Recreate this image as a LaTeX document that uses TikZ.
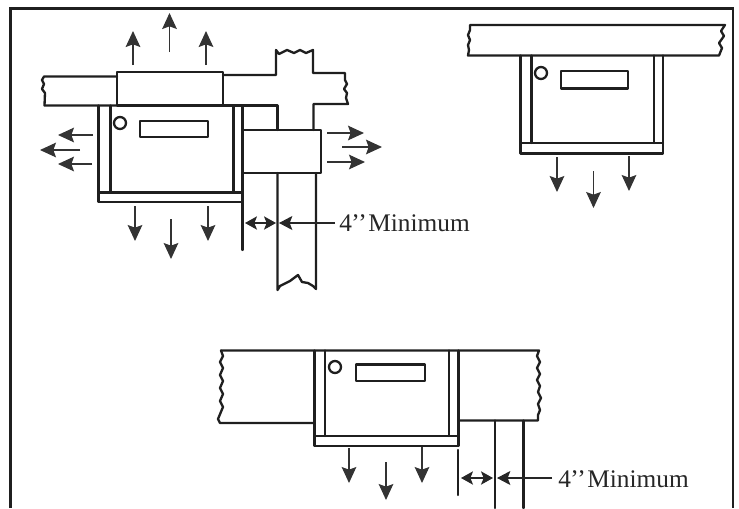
\documentclass[tikz,border=0pt]{standalone}
\usepackage{fontspec}
\setmainfont{Liberation Serif}
\usetikzlibrary{arrows.meta}
\tikzset{
  wall/.style={line width=1.75pt,line cap=round,line join=round,color=black!88},
  frameline/.style={line width=2pt,color=black!88},
  flow/.style={line width=0.85pt,color=black!80,-{Stealth[length=12pt,width=11pt,inset=2pt]}},
  dim/.style={line width=0.85pt,color=black!85,{Stealth[length=9pt,width=10pt,inset=2pt]}-{Stealth[length=9pt,width=10pt,inset=2pt]}},
  dimlead/.style={line width=0.85pt,color=black!85,-{Stealth[length=10pt,width=10.5pt,inset=2pt]}},
  dimlabel/.style={inner sep=0pt,anchor=base west,font=\fontsize{19pt}{22pt}\selectfont,color=black!85}
}
\newcommand{\minlabel}{4\kern-0.5pt’\kern-1pt’\kern1.2pt Minimum}
\begin{document}
\begin{tikzpicture}[x=0.75pt,y=-0.75pt]
\useasboundingbox (0,0) rectangle (739,508);
% frame
\draw[frameline] (10.5,508) -- (10.5,8.5) -- (733,8.5) -- (733,508);

% ---- upper-left unit
\draw[wall] (117,76.5) -- (44,76.5) -- (42,80) -- (44,84) -- (42,89) -- (45,93) -- (44.5,105.5) -- (117,105.5);
\draw[wall] (117,105.5) rectangle (223,72);
\draw[wall] (223,105.5) -- (277.5,105.5);
\draw[wall] (223,75) -- (276,75) -- (276,50) -- (279,54) -- (287,50) -- (294,53) -- (300,50) -- (306,53) -- (313,50) -- (313,73) -- (345,73) -- (345,80) -- (347,84) -- (344,89) -- (347,93) -- (346,98) -- (348,104) -- (313.5,104) -- (313.5,130);
\draw[wall] (277.5,105.5) -- (277.5,130);
\draw[wall] (98.5,105.5) -- (98.5,202) -- (242.5,202) (98.5,192.5) -- (242.5,192.5);
\draw[wall] (110.5,105.5) -- (110.5,192.5) (233.5,105.5) -- (233.5,192.5);
\draw[wall] (242.5,105.5) -- (242.5,250);
\draw[wall] (120,123) circle[radius=6];
\draw[wall] (140,121) rectangle (208,137);
\draw[wall] (242.5,130) rectangle (321,173);
\draw[wall] (277.5,173) -- (277.5,290) -- (280,286) -- (290,281) -- (298,275) -- (302,282) -- (308,283) -- (313,286) -- (316,289) -- (316,173);
\draw[flow] (133,65) -- (133,31);
\draw[flow] (169.5,52) -- (169.5,13);
\draw[flow] (206,65) -- (206,31);
\draw[flow] (93,135) -- (58,135);
\draw[flow] (80,150) -- (40,150);
\draw[flow] (92,164) -- (58,164);
\draw[flow] (135,206) -- (135,241);
\draw[flow] (171,219) -- (171,259);
\draw[flow] (208,206) -- (208,241);
\draw[flow] (327,133) -- (364,133);
\draw[flow] (342,147) -- (382,147);
\draw[flow] (327,162) -- (365,162);
\coordinate (a1) at (245,223);
\coordinate (a2) at (276,223);
\coordinate (a3) at (279,223);
\draw[dim] (a1) -- (a2);
\node[dimlabel] (lab1) at (339,231) {\minlabel};
\coordinate (a4) at (335,223);
\draw[dimlead] (a4) -- (a3);

% ---- upper-right unit
\draw[wall] (470,25) -- (725,25) -- (721,31) -- (724,36) -- (719,43) -- (722,48) -- (719,55.5) -- (468,55.5) -- (469,50) -- (468,45) -- (470,40) -- (468,35) -- (470,30) -- cycle;
\draw[wall] (520.5,55.5) -- (520.5,153.5) -- (663,153.5) -- (663,55.5);
\draw[wall] (520.5,143) -- (663,143);
\draw[wall] (531.5,55.5) -- (531.5,143) (654,55.5) -- (654,143);
\draw[wall] (541,73) circle[radius=6];
\draw[wall] (561,71) rectangle (628,88.5);
\draw[flow] (557,157) -- (557,192);
\draw[flow] (593.5,171) -- (593.5,208);
\draw[flow] (629,156) -- (629,191);

% ---- lower unit
\draw[wall] (221,350.5) -- (539,350.5) -- (537,356) -- (540,362) -- (537,368) -- (540,374) -- (537,380) -- (540,386) -- (538,392);
\draw[wall] (538,392) -- (541,398) -- (538,404) -- (540,410) -- (538,415) -- (538,420.5) -- (458.5,420.5);
\draw[wall] (221,350.5) -- (223,356) -- (220,362) -- (223,368) -- (220,375) -- (223,381) -- (220,388) -- (223,394) -- (220,401) -- (223,407) -- (218,419) -- (220,423) -- (314.5,423);
\draw[wall] (314.5,350.5) -- (314.5,446) -- (458.5,446) -- (458.5,350.5);
\draw[wall] (314.5,436) -- (458.5,436);
\draw[wall] (325,350.5) -- (325,436) (449,350.5) -- (449,436);
\draw[wall] (335,367) circle[radius=6];
\draw[wall] (356,364.5) rectangle (425,381);
\draw[wall] (458,450) -- (458,495);
\draw[wall] (495,420.5) -- (495,508) (523.5,420.5) -- (523.5,508);
\draw[flow] (349,448) -- (349,483);
\draw[flow] (386,462) -- (386,500);
\draw[flow] (422,447) -- (422,483);
\coordinate (b1) at (461,478);
\coordinate (b2) at (493,478);
\coordinate (b3) at (497,478);
\draw[dim] (b1) -- (b2);
\node[dimlabel] (lab2) at (558,487) {\minlabel};
\coordinate (b4) at (552,478);
\draw[dimlead] (b4) -- (b3);
\end{tikzpicture}
\end{document}
